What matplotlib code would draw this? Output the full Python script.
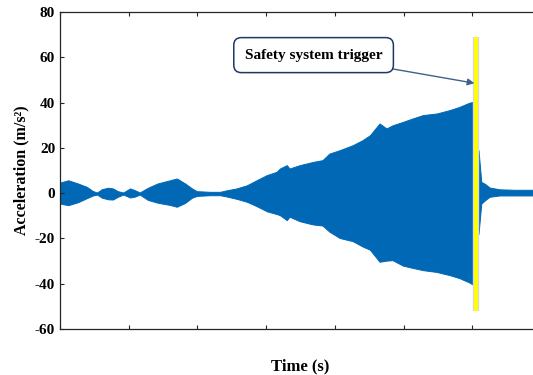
import matplotlib
matplotlib.use('Agg')
import matplotlib.pyplot as plt
import matplotlib.patheffects as pe

plt.rcParams['font.family'] = ['Liberation Serif', 'DejaVu Serif']
plt.rcParams['font.weight'] = 'bold'
plt.rcParams['axes.unicode_minus'] = False

# envelope of the acceleration record
time = [0.00, 0.12, 0.26, 0.39, 0.48, 0.54, 0.61, 0.70, 0.77, 0.84, 0.92, 1.02,
        1.09, 1.16, 1.28, 1.42, 1.60, 1.70, 1.82, 1.92, 1.99, 2.18, 2.33, 2.43,
        2.57, 2.72, 2.86, 3.01, 3.15, 3.20, 3.30, 3.34, 3.49, 3.68, 3.82, 3.92,
        4.07, 4.26, 4.40, 4.51, 4.65, 4.75, 4.84, 4.99, 5.13, 5.28, 5.48, 5.67,
        5.81, 5.96, 6.02, 6.05, 6.09, 6.13, 6.19, 6.25, 6.40, 6.61, 6.88, 7.00]
upper = [4.7, 5.7, 4.3, 2.8, 0.9, 0.3, 1.8, 2.4, 2.1, 0.9, 0.3, 2.1,
         1.3, 0.3, 2.4, 4.3, 5.7, 6.5, 4.3, 2.1, 0.9, 0.6, 0.6, 1.3,
         2.1, 3.5, 5.7, 8.0, 9.4, 10.9, 12.4, 10.9, 12.4, 13.8, 14.6, 17.5,
         19.0, 21.2, 23.4, 25.6, 30.8, 28.6, 30.0, 31.5, 33.0, 34.5, 35.2, 36.7,
         38.1, 40.0, 40.4, 19.0, 19.0, 5.0, 4.0, 2.5, 1.7, 1.5, 1.5, 1.5]
lower = [-4.6, -5.3, -4.0, -2.2, -1.0, -0.6, -2.0, -2.7, -2.8, -1.6, -0.6, -1.9,
         -1.5, -0.6, -3.0, -4.2, -5.2, -6.0, -4.3, -2.0, -1.2, -0.9, -0.9, -1.5,
         -2.5, -3.8, -5.7, -8.0, -9.2, -9.7, -11.9, -10.4, -12.4, -13.8, -14.3, -17.0,
         -19.8, -21.2, -23.5, -25.0, -30.3, -29.8, -29.6, -32.0, -33.0, -34.0, -34.8, -36.2,
         -37.5, -39.5, -40.6, -18.6, -18.0, -4.6, -3.0, -1.6, -1.0, -1.0, -1.0, -1.0]

trigger_t = 6.06
trigger_span = [-52, 69]
label = 'Safety system trigger'
yticks = [-60, -40, -20, 0, 20, 40, 60, 80]

fig = plt.figure(figsize=(5.33, 3.75), dpi=100)
ax = fig.add_axes([0.1126, 0.1227, 0.9025, 0.845])

ax.fill_between(time, lower, upper, color='#0068B5', linewidth=0.7, edgecolor='#0068B5')

ax.plot([trigger_t, trigger_t], trigger_span, color='#FFFF00', lw=2.8,
        solid_capstyle='butt',
        path_effects=[pe.Stroke(linewidth=4.6, foreground='#D9D9D9'), pe.Normal()])

ax.annotate(label, xy=(6.03, 48.6), xytext=(3.69, 61), ha='center', va='center',
            fontsize=11, fontweight='bold',
            bbox=dict(boxstyle='round,pad=0.72,rounding_size=0.5', fc='white',
                      ec='#1F3864', lw=1.1),
            arrowprops=dict(arrowstyle='-|>', color='#41618C', lw=1.0,
                            mutation_scale=10, shrinkA=0, shrinkB=0))

ax.set_xlim(0, 7)
ax.set_ylim(-60, 80)
ax.set_yticks(yticks)
ax.set_xticks(range(0, 8))
ax.set_xticklabels([])
ax.tick_params(direction='in', length=3, width=0.8, top=True, right=True,
               labelsize=11, color='#262626')
for lab in ax.get_yticklabels():
    lab.set_fontweight('bold')
for s in ax.spines.values():
    s.set_color('#262626')
    s.set_linewidth(0.9)

ax.set_ylabel('Acceleration (m/s²)', fontsize=11.5, fontweight='bold', labelpad=4)
ax.set_xlabel('Time (s)', fontsize=12, fontweight='bold', labelpad=18)

fig.savefig('out.png', dpi=100)
